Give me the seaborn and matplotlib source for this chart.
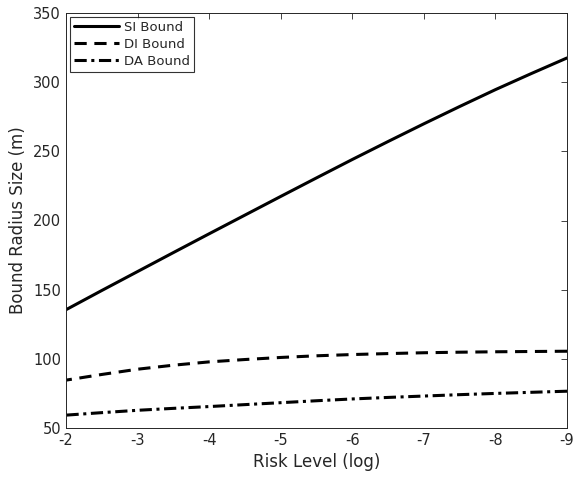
import matplotlib
matplotlib.use("Agg")
import matplotlib.pyplot as plt
import seaborn as sns
import pandas as pd

risk = [-2, -2.5, -3, -3.5, -4, -4.5, -5, -5.5, -6, -6.5, -7, -7.5, -8, -8.5, -9]
si_bound = [135.5, 149.4, 163.1, 176.8, 190.4, 203.9, 217.4, 230.8, 244.1, 257.1, 269.9, 282.4, 294.6, 306.2, 317.5]
di_bound = [84.6, 88.7, 92.5, 95.4, 97.8, 99.5, 101, 102.2, 103.1, 103.8, 104.4, 104.8, 105.1, 105.3, 105.5]
da_bound = [59.3, 61.1, 62.8, 64.2, 65.5, 66.9, 68.3, 69.7, 71.0, 72.1, 73.1, 74.1, 75.0, 75.8, 76.6]
tick_labels = ["-2", "-3", "-4", "-5", "-6", "-7", "-8", "-9"]

sns.set_style("white")
plt.rcParams['font.family'] = ['DejaVu Sans']

fig = plt.figure(figsize=(5.76, 4.79), dpi=100)
ax = fig.add_axes([66 / 576, 51 / 479, 501 / 576, 415 / 479])

styles = [("SI Bound", si_bound, "-"),
          ("DI Bound", di_bound, (0, (4, 2.5))),
          ("DA Bound", da_bound, (0, (4, 1.5, 1, 1.5)))]
for name, vals, ls in styles:
    df = pd.DataFrame({"risk": risk, "val": vals})
    sns.lineplot(data=df, x="risk", y="val", ax=ax, color="black", linewidth=2.2,
                 linestyle=ls, label=name)

ax.set_xlim(-2, -9)
ax.set_ylim(50, 350)
ax.set_xticks([int(t) for t in tick_labels])
ax.set_xticklabels(tick_labels)
ax.set_yticks([50, 100, 150, 200, 250, 300, 350])
ax.tick_params(direction="in", length=4, top=True, right=True, labelsize=10.5,
               colors="#262626", width=0.6)
for s in ax.spines.values():
    s.set_color("#262626")
    s.set_linewidth(0.7)
ax.set_xlabel("Risk Level (log)", fontsize=12, color="#262626")
ax.set_ylabel("Bound Radius Size (m)", fontsize=12, color="#262626")

leg = ax.legend(loc="upper left", fontsize=9.5, frameon=True, fancybox=False,
                edgecolor="black", borderaxespad=0.3, handlelength=3.4,
                labelspacing=0.3, borderpad=0.3, handletextpad=0.4)
leg.get_frame().set_linewidth(0.8)

fig.savefig("out.png", dpi=100)
